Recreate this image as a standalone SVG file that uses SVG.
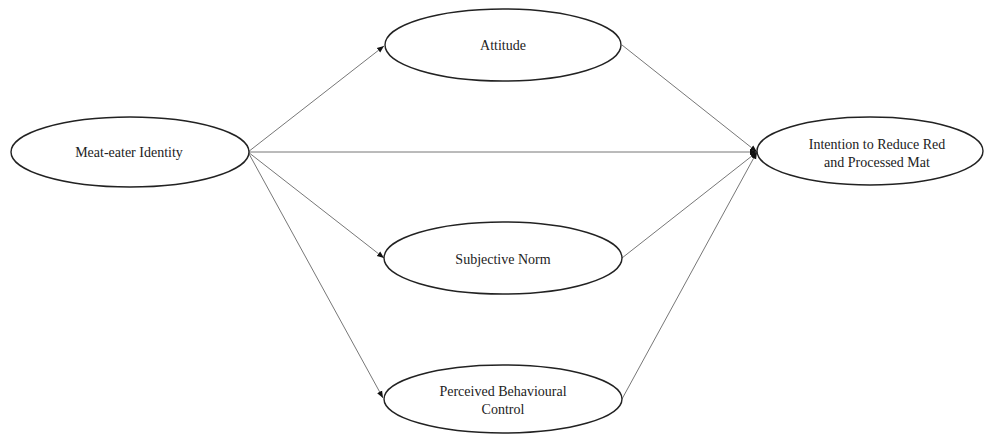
<svg xmlns="http://www.w3.org/2000/svg" width="984" height="435" viewBox="0 0 984 435">
<defs>
<marker id="ah" viewBox="0 0 10 10" refX="10" refY="5" markerWidth="7" markerHeight="7" markerUnits="userSpaceOnUse" orient="auto">
<path d="M0,1 L10,5 L0,9 Z" fill="#111"/>
</marker>
<style>
.n{fill:#fff;stroke:#222;stroke-width:1.4}
.t{font-family:'Liberation Serif','DejaVu Serif',serif;font-size:14px;fill:#222;text-anchor:middle}
.c{stroke:#777;stroke-width:1;fill:none}
</style>
</defs>
<rect width="984" height="435" fill="#fff"/>
<g id="connectors">
<line class="c" x1="248" y1="152" x2="384" y2="46" marker-end="url(#ah)"/>
<line class="c" x1="248" y1="152" x2="757" y2="152" marker-end="url(#ah)"/>
<line class="c" x1="248" y1="152" x2="384" y2="258" marker-end="url(#ah)"/>
<line class="c" x1="248" y1="152" x2="383" y2="398" marker-end="url(#ah)"/>
<line class="c" x1="622" y1="45" x2="757" y2="152" marker-end="url(#ah)"/>
<line class="c" x1="622" y1="258" x2="757" y2="152" marker-end="url(#ah)"/>
<line class="c" x1="622" y1="399" x2="757" y2="152" marker-end="url(#ah)"/>
</g>
<g id="meat-eater-identity">
<ellipse class="n" cx="130" cy="152" rx="119" ry="35"/>
<text class="t" x="129" y="157" font-family="Liberation Serif">Meat-eater Identity</text>
</g>
<g id="attitude">
<ellipse class="n" cx="503" cy="45" rx="118" ry="36"/>
<text class="t" x="503" y="50" font-family="Liberation Serif">Attitude</text>
</g>
<g id="subjective-norm">
<ellipse class="n" cx="503" cy="258" rx="119" ry="36"/>
<text class="t" x="503" y="264" font-family="Liberation Serif">Subjective Norm</text>
</g>
<g id="perceived-behavioural-control">
<ellipse class="n" cx="503" cy="399" rx="119" ry="34"/>
<text class="t" x="503" y="396" font-family="Liberation Serif">Perceived Behavioural</text>
<text class="t" x="503" y="414" font-family="Liberation Serif">Control</text>
</g>
<g id="intention">
<ellipse class="n" cx="870" cy="151" rx="113" ry="34"/>
<text class="t" x="877" y="149" font-family="Liberation Serif">Intention to Reduce Red</text>
<text class="t" x="877" y="167" font-family="Liberation Serif">and Processed Mat</text>
</g>
</svg>
